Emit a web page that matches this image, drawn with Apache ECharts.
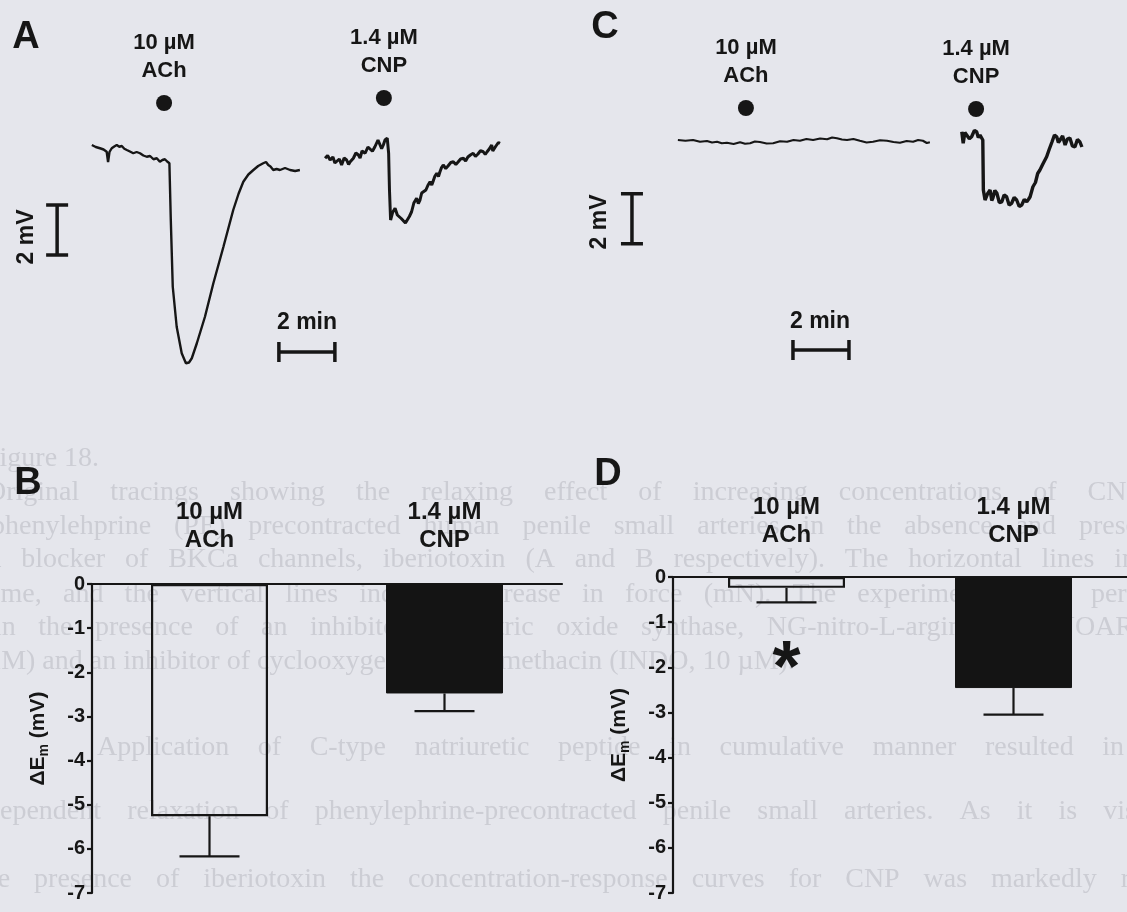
<!DOCTYPE html>
<html><head><meta charset="utf-8">
<script src="https://cdn.jsdelivr.net/npm/echarts@6/dist/echarts.min.js"></script>
<style>html,body{margin:0;padding:0;background:#e5e6ec;}#c{width:1127px;height:912px;}</style>
</head><body><div id="c"></div>
<script>
// ---------- DATA ----------
// Panel B / D bar charts (ΔEm, mV): means and SEM
const categories = ['10 µM\nACh', '1.4 µM\nCNP'];
const meanB = [-5.26, -2.48];
const semB  = [0.91, 0.40];
const meanD = [-0.24, -2.46];
const semD  = [0.32, 0.59];
const yTicksBD = [0, -1, -2, -3, -4, -5, -6, -7];
const significantD = [true, false];

// Panel A traces: [time (min), membrane potential change (mV)]
const traceA_ACh = [[3.28,0.20],[3.42,0.12],[3.57,0.07],[3.70,0.02],[3.81,-0.07],[3.86,-0.48],[3.91,-0.08],[3.99,0.07],[4.08,0.14],[4.17,0.20],[4.26,0.13],[4.35,0.16],[4.44,0.05],[4.53,0.00],[4.64,-0.06],[4.76,-0.13],[4.88,-0.08],[5.00,-0.13],[5.12,-0.22],[5.24,-0.27],[5.36,-0.24],[5.48,-0.37],[5.60,-0.33],[5.71,-0.47],[5.80,-0.40],[5.89,-0.37],[5.97,-0.46],[6.05,-0.53],[6.10,-2.80],[6.17,-5.47],[6.31,-7.07],[6.49,-8.13],[6.64,-8.53],[6.75,-8.50],[6.85,-8.33],[7.03,-7.73],[7.32,-6.67],[7.62,-5.33],[7.98,-3.87],[8.33,-2.40],[8.52,-1.75],[8.69,-1.27],[8.87,-0.98],[9.05,-0.80],[9.22,-0.64],[9.40,-0.53],[9.50,-0.48],[9.58,-0.60],[9.66,-0.66],[9.76,-0.80],[9.88,-0.76],[10.0,-0.80],[10.18,-0.72],[10.36,-0.80],[10.54,-0.84],[10.71,-0.80]];
const traceA_CNP = [[11.61,-0.33],[11.70,-0.22],[11.79,-0.40],[11.89,-0.28],[11.96,-0.52],[12.03,-0.47],[12.12,-0.36],[12.20,-0.60],[12.29,-0.32],[12.38,-0.40],[12.45,-0.58],[12.50,-0.48],[12.62,-0.33],[12.71,-0.12],[12.80,-0.20],[12.86,-0.32],[12.93,-0.04],[13.04,-0.13],[13.14,0.12],[13.21,0.07],[13.30,-0.05],[13.39,0.13],[13.50,0.40],[13.57,0.33],[13.63,0.05],[13.69,0.20],[13.75,0.40],[13.83,0.47],[13.88,-0.13],[13.91,-1.60],[13.95,-2.80],[14.02,-2.50],[14.11,-2.33],[14.19,-2.60],[14.26,-2.53],[14.33,-2.74],[14.40,-2.67],[14.48,-2.92],[14.55,-2.87],[14.62,-2.66],[14.70,-2.47],[14.78,-2.12],[14.88,-1.93],[14.94,-2.14],[15.00,-2.00],[15.06,-1.72],[15.12,-1.67],[15.21,-1.60],[15.28,-1.42],[15.36,-1.27],[15.42,-1.40],[15.46,-1.28],[15.53,-1.05],[15.60,-0.93],[15.66,-1.06],[15.71,-0.88],[15.77,-0.70],[15.83,-0.60],[15.92,-0.74],[16.00,-0.64],[16.10,-0.50],[16.19,-0.47],[16.28,-0.58],[16.36,-0.48],[16.45,-0.36],[16.55,-0.33],[16.63,-0.44],[16.71,-0.28],[16.80,-0.20],[16.90,-0.13],[16.98,-0.26],[17.07,-0.16],[17.16,-0.03],[17.26,-0.07],[17.33,-0.18],[17.39,-0.08],[17.48,0.05],[17.56,0.20],[17.60,-0.04],[17.64,-0.08],[17.70,0.14],[17.74,0.07],[17.80,0.30],[17.86,0.27]];
// Panel C traces
const traceC_ACh = [[4.21,0.40],[4.48,0.37],[4.75,0.40],[5.00,0.33],[5.25,0.36],[5.43,0.30],[5.61,0.33],[5.78,0.27],[5.96,0.29],[6.20,0.24],[6.43,0.31],[6.61,0.25],[6.79,0.27],[6.96,0.34],[7.14,0.32],[7.38,0.26],[7.61,0.27],[7.86,0.35],[8.11,0.33],[8.34,0.40],[8.57,0.37],[8.80,0.44],[9.04,0.40],[9.29,0.46],[9.54,0.43],[9.72,0.50],[9.89,0.47],[10.07,0.42],[10.25,0.40],[10.48,0.44],[10.71,0.37],[10.95,0.30],[11.18,0.33],[11.43,0.39],[11.68,0.37],[11.91,0.32],[12.14,0.29],[12.38,0.36],[12.61,0.33],[12.79,0.40],[12.96,0.37],[13.10,0.28],[13.21,0.31]];
const traceC_CNP = [[14.35,0.73],[14.40,0.27],[14.46,0.70],[14.53,0.67],[14.62,0.45],[14.70,0.53],[14.80,0.78],[14.88,0.73],[14.94,0.50],[15.00,0.60],[15.10,0.40],[15.12,-1.60],[15.18,-2.00],[15.27,-1.75],[15.36,-1.60],[15.42,-2.02],[15.46,-1.92],[15.53,-1.62],[15.60,-1.72],[15.69,-2.10],[15.78,-2.07],[15.86,-1.80],[15.95,-1.87],[16.04,-2.20],[16.13,-2.13],[16.22,-1.90],[16.31,-2.00],[16.40,-2.26],[16.49,-2.20],[16.58,-1.98],[16.67,-2.07],[16.74,-1.96],[16.79,-1.87],[16.89,-1.47],[16.98,-1.30],[17.06,-0.94],[17.14,-0.80],[17.25,-0.55],[17.38,-0.27],[17.47,0.02],[17.57,0.32],[17.66,0.60],[17.74,0.53],[17.80,0.30],[17.86,0.40],[17.95,0.56],[18.04,0.20],[18.12,0.44],[18.21,0.48],[18.30,0.16],[18.39,0.12],[18.48,0.42],[18.57,0.32],[18.64,0.12]];
// Drug application markers (time, marker height) and their labels
const stimA = [[5.86, 1.88], [13.71, 2.08]];
const stimC = [[6.64, 1.68], [14.86, 1.64]];
const stimLabels = ['10 µM\nACh', '1.4 µM\nCNP'];
// Calibration bars
const scaleMv = 2;   // mV
const scaleMin = 2;  // min
const scaleLabels = ['2 mV', '2 min'];
const panelLetters = ['A', 'B', 'C', 'D'];
// Faint show-through text of the scanned page
const ghostText = [
  'Figure 18.',
  'Original tracings showing the relaxing effect of increasing concentrations of CNP',
  'phenylehprine (PE) precontracted human penile small arteries in the absence and prese',
  'a blocker of BKCa channels, iberiotoxin (A and B respectively). The horizontal lines in',
  'time, and the vertical lines indicate increase in force (mN). The experiments were perf',
  'in the presence of an inhibitor of nitric oxide synthase, NG-nitro-L-arginine (L-NOAR',
  'µM) and an inhibitor of cyclooxygenase, indomethacin (INDO, 10 µM).',
  'Application of C-type natriuretic peptide in cumulative manner resulted in',
  'dependent relaxation of phenylephrine-precontracted penile small arteries. As it is vis',
  'the presence of iberiotoxin the concentration-response curves for CNP was markedly r'
];

// ---------- CHART ----------
const INK = '#161616';
const FONT = '"Liberation Sans", Arial, sans-serif';
const chart = echarts.init(document.getElementById('c'), null, {renderer: 'canvas'});

// ghost text layout (justified lines)
const ghostLayout = [
  {x0:-16, x1:null, y:459}, {x0:-14, x1:1142, y:493}, {x0:-9, x1:1138, y:527},
  {x0:-11, x1:1136, y:560}, {x0:-15, x1:1136, y:595}, {x0:-6, x1:1134, y:628},
  {x0:-15, x1:null, y:662}, {x0:97, x1:1124, y:748}, {x0:-14, x1:1136, y:812},
  {x0:-24, x1:1130, y:880}
];
const gctx = document.createElement('canvas').getContext('2d');
gctx.font = '28px "Liberation Serif"';
const ghostEls = [];
ghostText.forEach((t, i) => {
  const L = ghostLayout[i];
  const words = t.split(' ');
  const ws = words.map(w => gctx.measureText(w).width);
  const sum = ws.reduce((a, b) => a + b, 0);
  const gap = (L.x1 === null || words.length < 2) ? gctx.measureText(' ').width : (L.x1 - L.x0 - sum) / (words.length - 1);
  let x = L.x0;
  words.forEach((w, k) => {
    ghostEls.push({type: 'text', x: x, y: L.y, z: -5, silent: true,
      style: {text: w, fill: '#cccdd4', fontSize: 28, fontFamily: '"Liberation Serif", serif', verticalAlign: 'middle', align: 'left'}});
    x += ws[k] + gap;
  });
});

function txt(s, x, y, size, rot) {
  return {type: 'text', x: x, y: y, rotation: rot || 0, z: 10,
    style: {text: s, fill: INK, fontSize: size, fontWeight: 'bold', fontFamily: FONT, align: 'center', verticalAlign: 'middle'}};
}

// calibration bar renderer: item = [x1, y1, x2, y2]
function scaleRender(params, api) {
  const p1 = api.coord([api.value(0), api.value(1)]);
  const p2 = api.coord([api.value(2), api.value(3)]);
  const vert = Math.abs(p1[0] - p2[0]) < 1;
  const h = vert ? 11 : 10;
  const st = {stroke: INK, lineWidth: 3.5};
  const caps = vert
    ? [[p1[0]-h, p1[1], p1[0]+h, p1[1]], [p2[0]-h, p2[1], p2[0]+h, p2[1]]]
    : [[p1[0], p1[1]-h, p1[0], p1[1]+h], [p2[0], p2[1]-h, p2[0], p2[1]+h]];
  return {type: 'group', children: [
    {type: 'line', shape: {x1: p1[0], y1: p1[1], x2: p2[0], y2: p2[1]}, style: st},
    {type: 'line', shape: {x1: caps[0][0], y1: caps[0][1], x2: caps[0][2], y2: caps[0][3]}, style: st},
    {type: 'line', shape: {x1: caps[1][0], y1: caps[1][1], x2: caps[1][2], y2: caps[1][3]}, style: st}
  ]};
}
// error bar renderer: item = [catIndex, mean, mean - sem]
function errRender(params, api) {
  const p1 = api.coord([api.value(0), api.value(1)]);
  const p2 = api.coord([api.value(0), api.value(2)]);
  const st = {stroke: INK, lineWidth: 2.2};
  return {type: 'group', children: [
    {type: 'line', shape: {x1: p1[0], y1: p1[1], x2: p2[0], y2: p2[1]}, style: st},
    {type: 'line', shape: {x1: p2[0]-30, y1: p2[1], x2: p2[0]+30, y2: p2[1]}, style: st}
  ]};
}

function traceSeries(data, gi, w) {
  return {type: 'line', xAxisIndex: gi, yAxisIndex: gi, data: data, showSymbol: false, symbol: 'none',
    lineStyle: {color: INK, width: w, opacity: 1}, silent: true, z: 3};
}
function stimSeries(data, gi) {
  return {type: 'scatter', xAxisIndex: gi, yAxisIndex: gi, symbolSize: 16,
    itemStyle: {color: INK, opacity: 1}, silent: true, z: 4,
    data: data.map((d, i) => ({value: d, label: {formatter: stimLabels[i]}})),
    label: {show: true, position: 'top', distance: 10, color: INK, opacity: 1, fontSize: 22, fontWeight: 'bold',
      fontFamily: FONT, lineHeight: 28, align: 'center'}};
}
function scaleSeries(gi, mvX, mvTop, minX, minY) {
  return {type: 'custom', xAxisIndex: gi, yAxisIndex: gi, renderItem: scaleRender, silent: true, z: 4,
    data: [[mvX, mvTop, mvX, mvTop - scaleMv], [minX, minY, minX + scaleMin, minY]]};
}
function barItems(means) {
  return means.map((m, i) => ({value: m, itemStyle: i === 0
    ? {color: 'rgba(0,0,0,0)', borderColor: INK, borderWidth: 2.2}
    : {color: '#141414', borderColor: '#141414', borderWidth: 1}}));
}
const yName = '{a|ΔE}{b|m}{a| (mV)}';
function barYAxis(gi) {
  return {type: 'value', gridIndex: gi, min: -7, max: 0, interval: 1,
    axisLine: {show: true, lineStyle: {color: INK, width: 2.2}},
    axisTick: {show: true, length: 5, lineStyle: {color: INK, width: 2.2}},
    axisLabel: {color: INK, fontSize: 20, fontWeight: 'bold', fontFamily: FONT, margin: 7,
      formatter: v => String(yTicksBD[Math.round(-v)])},
    splitLine: {show: false},
    name: yName, nameLocation: 'middle', nameRotate: 90, nameGap: 41,
    nameTextStyle: {color: INK, fontFamily: FONT, fontWeight: 'bold',
      rich: {a: {fontSize: 21, fontWeight: 'bold', fontFamily: FONT, color: INK, lineHeight: 26},
             b: {fontSize: 14, fontWeight: 'bold', fontFamily: FONT, color: INK, verticalAlign: 'bottom'}}}};
}
function barXAxis(gi, margin) {
  return {type: 'category', gridIndex: gi, position: 'top', data: categories,
    axisLine: {show: true, lineStyle: {color: INK, width: 2.2}},
    axisTick: {show: false},
    axisLabel: {color: INK, fontSize: 24, fontWeight: 'bold', fontFamily: FONT, margin: margin, lineHeight: 28, interval: 0}};
}

const option = {
  backgroundColor: '#e5e6ec',
  animation: false,
  textStyle: {fontFamily: FONT},
  grid: [
    {left: 0, top: 0, width: 560, height: 375},
    {left: 560, top: 0, width: 560, height: 375},
    {left: 92, top: 584, width: 470, height: 309},
    {left: 673, top: 577, width: 472, height: 316}
  ],
  xAxis: [
    {type: 'value', gridIndex: 0, min: 0, max: 20, show: false},
    {type: 'value', gridIndex: 1, min: 0, max: 20, show: false},
    barXAxis(2, 30),
    barXAxis(3, 28)
  ],
  yAxis: [
    {type: 'value', gridIndex: 0, min: -9, max: 6, show: false},
    {type: 'value', gridIndex: 1, min: -9, max: 6, show: false},
    barYAxis(2),
    barYAxis(3)
  ],
  graphic: ghostEls.concat([
    txt(panelLetters[0], 26, 38, 38),
    txt(panelLetters[2], 605, 28, 38),
    txt(panelLetters[1], 28, 484, 38),
    txt(panelLetters[3], 608, 475, 38),
    txt(scaleLabels[0], 27, 237, 23, Math.PI / 2),
    txt(scaleLabels[1], 307, 323, 23),
    txt(scaleLabels[0], 600, 222, 23, Math.PI / 2),
    txt(scaleLabels[1], 820, 322, 23)
  ]),
  series: [
    traceSeries(traceA_ACh, 0, 2.4),
    traceSeries(traceA_CNP, 0, 3),
    stimSeries(stimA, 0),
    scaleSeries(0, 2.04, -2.2, 9.96, -8.08),
    traceSeries(traceC_ACh, 1, 2.2),
    traceSeries(traceC_CNP, 1, 3.4),
    stimSeries(stimC, 1),
    scaleSeries(1, 2.57, -1.75, 8.32, -8.0),
    {type: 'bar', xAxisIndex: 2, yAxisIndex: 2, barWidth: 117, data: barItems(meanB), silent: true, z: 3},
    {type: 'custom', xAxisIndex: 2, yAxisIndex: 2, renderItem: errRender, silent: true, z: 4,
      data: meanB.map((m, i) => [i, m, m - semB[i]])},
    {type: 'bar', xAxisIndex: 3, yAxisIndex: 3, barWidth: 117, data: barItems(meanD), silent: true, z: 3},
    {type: 'custom', xAxisIndex: 3, yAxisIndex: 3, renderItem: errRender, silent: true, z: 4,
      data: meanD.map((m, i) => [i, m, m - semD[i]])},
    {type: 'scatter', xAxisIndex: 3, yAxisIndex: 3, symbolSize: 1, itemStyle: {color: 'rgba(0,0,0,0)', opacity: 1}, silent: true, z: 5,
      data: significantD.map((s, i) => s ? [i, -1.74] : null).filter(d => d),
      label: {show: true, position: 'inside', formatter: '*', color: INK, opacity: 1, fontSize: 72, fontWeight: 'bold', fontFamily: FONT, offset: [0, 16]}}
  ]
};
chart.setOption(option);
</script></body></html>
